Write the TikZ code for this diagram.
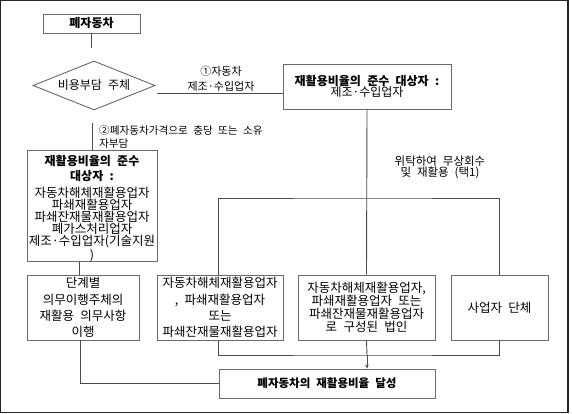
\documentclass[tikz,border=0pt]{standalone}
\usepackage{fontspec}
\setmainfont{Noto Sans CJK KR}[WordSpace=2.3]
\usetikzlibrary{shapes.geometric,arrows.meta}
\definecolor{boxline}{HTML}{6A6A6A}
\definecolor{conline}{HTML}{4A4A4A}
\tikzset{
  box/.style={draw=boxline, line width=0.9pt, inner sep=0pt, align=center, fill=white},
  conn/.style={draw=conline, line width=0.9pt},
  lbl/.style={inner sep=0pt, align=center},
}
\begin{document}
\begin{tikzpicture}[x=1pt,y=-1pt]
\useasboundingbox (0,0) rectangle (572,414);
\draw[draw=black!85, line width=1.4pt] (0.7,0.7) rectangle (567.8,412.3);

% top
\node[box, minimum width=97pt, minimum height=19pt, font=\fontsize{12}{12}\selectfont\bfseries] (b0) at (91.5,23.5) {폐자동차};
\node[draw=boxline, line width=0.9pt, diamond, aspect=2.5, minimum width=122pt, minimum height=49pt, inner sep=0pt, font=\fontsize{12}{12}\selectfont] (d) at (94,85.5) {비용부담 주체};
\coordinate (c0) at (91,48);
\draw[conn] (b0.south -| c0) -- (c0);

\node[box, minimum width=168pt, minimum height=45pt, font=\fontsize{12}{11.5}\selectfont] (r1) at (367,86.5) {{\bfseries 재활용비율의 준수 대상자 :}\\제조·수입업자};
\coordinate (c1) at (157,93);
\draw[conn] (c1) -- (c1 -| r1.west);
\node[lbl, font=\fontsize{11}{15}\selectfont] (lab1) at (221,78.5) {①자동차\\제조·수입업자};

% left branch
\node[box, minimum width=130pt, minimum height=106pt, font=\fontsize{12.5}{12}\selectfont] (l1) at (92,206) {\rule{0pt}{15pt}{\fontsize{12}{12}\selectfont\bfseries 재활용비율의 준수}\\[3pt]{\fontsize{12}{12}\selectfont\bfseries 대상자 :}\\[5.5pt]자동차해체재활용업자\\파쇄재활용업자\\파쇄잔재물재활용업자\\폐가스처리업자\\제조·수입업자(기술지원\\)};
\coordinate (c2) at (92,123);
\draw[conn] (c2) -- (l1.north);
\node[lbl, align=left, anchor=west, font=\fontsize{10.6}{13}\selectfont] (lab2) at (99,136.5) {②폐자동차가격으로 충당 또는 소유\\자부담};

% bottom row
\node[box, minimum width=112pt, minimum height=65pt, font=\fontsize{12.5}{16.3}\selectfont] (B1) at (83,307.5) {단계별\\의무이행주체의\\재활용 의무사항\\이행};
\node[box, minimum width=126pt, minimum height=65pt, font=\fontsize{12.5}{16.3}\selectfont] (B2) at (220,307.5) {자동차해체재활용업자\\, 파쇄재활용업자\\또는\\파쇄잔재물재활용업자};
\node[box, minimum width=137pt, minimum height=65pt, font=\fontsize{12.5}{13}\selectfont] (B3) at (366.5,307.5) {자동차해체재활용업자,\\파쇄재활용업자 또는\\파쇄잔재물재활용업자\\로 구성된 법인};
\node[box, minimum width=97pt, minimum height=65pt, font=\fontsize{12.5}{13}\selectfont] (B4) at (499.5,307.5) {사업자 단체};

\node[box, minimum width=216pt, minimum height=29pt, font=\fontsize{11.5}{13}\selectfont\bfseries] (F) at (327,383.5) {폐자동차의 재활용비율 달성};

% right branch
\coordinate (h) at (367,198);
\draw[conn] (r1.south) -- (B3.north);
\draw[conn] (B2.north -| F.west) |- (h) -| (B4.north);
\node[lbl, font=\fontsize{11.5}{11}\selectfont] (lab3) at (440,167.5) {위탁하여 무상회수\\및 재활용 (택1)};

\coordinate (j1) at (79,0);
\draw[conn] (l1.south -| j1) -- (B1.north -| j1);
\coordinate (j2) at (80,0);
\draw[conn] (B1.south -| j2) |- (F.west);
\coordinate (m) at (367,355);
\draw[conn] (B2.south -| F.west) |- (m) -| (B4.south);
\draw[conn] (B3.south) -- (m);
\draw[conn, -{Stealth[length=4pt,width=3.5pt]}] (m) -- (F.north -| m);
\end{tikzpicture}
\end{document}
